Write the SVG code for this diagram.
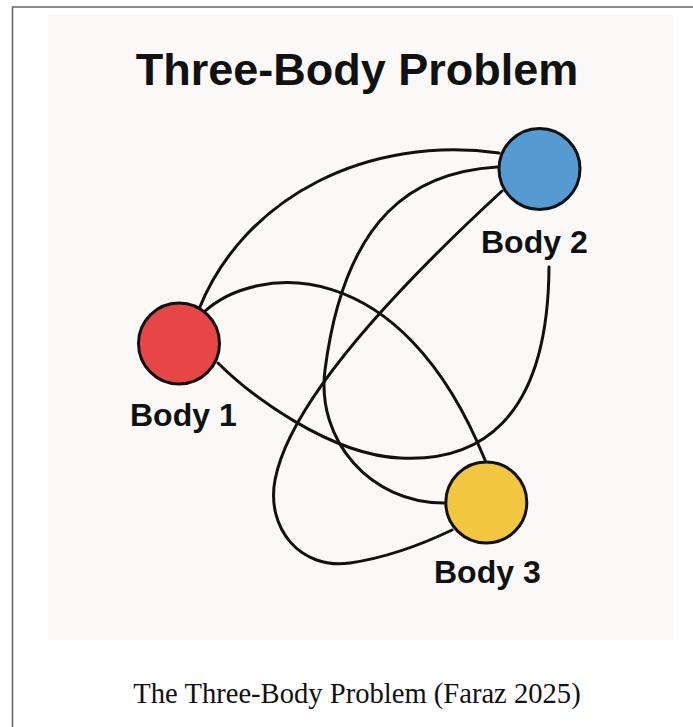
<svg xmlns="http://www.w3.org/2000/svg" width="693" height="727" viewBox="0 0 693 727">
  <style>
    .frame { stroke: #666; stroke-width: 1.6; fill: none; }
    .edge { fill: none; stroke: #111; stroke-width: 3; stroke-linecap: round; }
    .body { stroke: #111; stroke-width: 3; }
    .label { font-family: "Liberation Sans", Arial, sans-serif; font-weight: bold; font-size: 32px; fill: #111; }
    .title { font-family: "Liberation Sans", Arial, sans-serif; font-weight: bold; font-size: 45px; fill: #111; text-anchor: middle; }
    .caption { font-family: "Liberation Serif", "Times New Roman", serif; font-size: 28.6px; fill: #111; text-anchor: middle; }
  </style>
  <rect x="0" y="0" width="693" height="727" fill="#ffffff"/>
  <path class="frame" d="M12.5 727 V7 H693"/>
  <rect x="48" y="15" width="625" height="625" fill="#faf9f7"/>
  <text class="title" x="357" y="85">Three-Body Problem</text>

  <g id="connectors">
    <path class="edge" d="M199 309 C245 195, 370 135, 499 153"/>
    <path class="edge" d="M204 312 C255 265, 400 250, 485 460"/>
    <path class="edge" d="M218 363 C250 395, 330 455, 400 458 C475 462, 548 425, 549 267"/>
    <path class="edge" d="M497 167 C415 172, 345 215, 325 370 C316 440, 370 503, 444 503"/>
    <path class="edge" d="M502 191 C400 285, 290 400, 275 480 C266 528, 300 570, 350 563 C390 557, 425 543, 452 530"/>
  </g>

  <g id="body1">
    <circle class="body" cx="179" cy="343.5" r="40.5" fill="#e74646"/>
    <text class="label" x="130" y="426">Body 1</text>
  </g>
  <g id="body2">
    <circle class="body" cx="539.5" cy="169" r="40.5" fill="#559bd2"/>
    <text class="label" x="481" y="253">Body 2</text>
  </g>
  <g id="body3">
    <circle class="body" cx="486.3" cy="502.5" r="40.5" fill="#f3c63f"/>
    <text class="label" x="434" y="583">Body 3</text>
  </g>

  <text class="caption" x="357" y="703">The Three-Body Problem (Faraz 2025)</text>
</svg>
